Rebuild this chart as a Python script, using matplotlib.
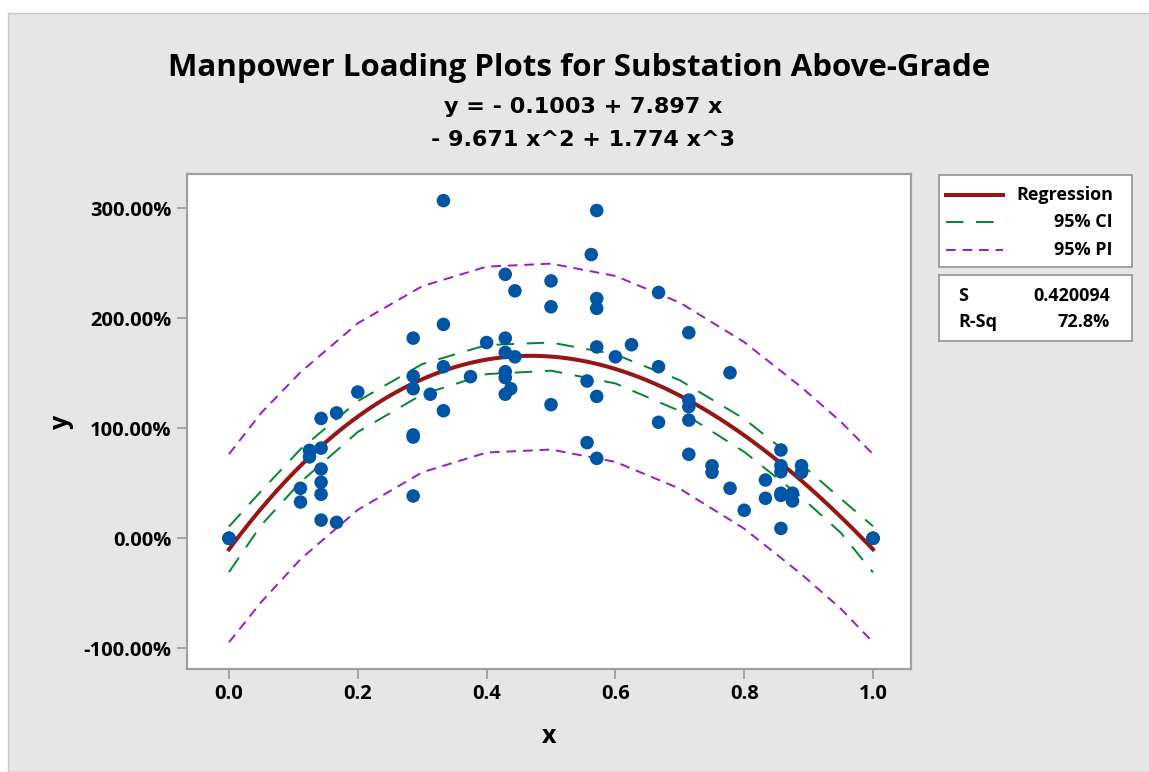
import numpy as np
import matplotlib
matplotlib.use('Agg')
import matplotlib.pyplot as plt
from matplotlib.patches import Rectangle
from matplotlib.ticker import FuncFormatter

plt.rcParams['font.family'] = ['Open Sans', 'DejaVu Sans']

# fitted model from the chart title: y = -0.1003 + 7.897x - 9.671x^2 + 1.774x^3
coefs = [1.774, -9.671, 7.897, -0.1003]

# observed points (y as fraction, shown as percent)
pts_x = [0, 0, 0,
         0.111, 0.111, 0.125, 0.125,
         0.143, 0.143, 0.143, 0.143, 0.143, 0.143,
         0.167, 0.167, 0.2,
         0.286, 0.286, 0.286, 0.286, 0.286, 0.286,
         0.3125, 0.333, 0.333, 0.333, 0.333, 0.375, 0.4,
         0.429, 0.429, 0.429, 0.429, 0.429, 0.429, 0.4375, 0.444, 0.444,
         0.5, 0.5, 0.5, 0.556, 0.556, 0.5625,
         0.571, 0.571, 0.571, 0.571, 0.571, 0.571,
         0.6, 0.625, 0.667, 0.667, 0.667,
         0.714, 0.714, 0.714, 0.714, 0.714,
         0.75, 0.75, 0.778, 0.778, 0.8, 0.833, 0.833,
         0.857, 0.857, 0.857, 0.857, 0.857, 0.857,
         0.875, 0.875, 0.889, 0.889,
         1.0, 1.0, 1.0]
pts_y = [0, 0, 0,
         0.455, 0.33, 0.80, 0.74,
         1.09, 0.82, 0.63, 0.51, 0.40, 0.166,
         1.14, 0.145, 1.33,
         1.82, 1.475, 1.36, 0.94, 0.92, 0.385,
         1.31, 3.07, 1.945, 1.56, 1.16, 1.47, 1.78,
         2.40, 1.82, 1.69, 1.515, 1.46, 1.31, 1.36, 2.25, 1.65,
         2.34, 2.105, 1.215, 1.43, 0.87, 2.58,
         2.98, 2.18, 2.09, 1.74, 1.29, 0.727,
         1.65, 1.76, 2.235, 1.56, 1.055,
         1.87, 1.257, 1.197, 1.075, 0.764,
         0.66, 0.60, 1.505, 0.455, 0.255, 0.53, 0.364,
         0.803, 0.66, 0.605, 0.41, 0.39, 0.09,
         0.41, 0.34, 0.66, 0.60,
         0, 0, 0]

# confidence / prediction bands
band_x = [0, 0.05, 0.111, 0.2, 0.3, 0.4, 0.5, 0.6, 0.7, 0.8, 0.889, 0.95, 1.0]
ci_upper = [0.107, 0.43, 0.810, 1.247, 1.584, 1.757, 1.780, 1.672, 1.437, 1.086, 0.673, 0.36, 0.110]
ci_lower = [-0.307, 0.12, 0.510, 0.967, 1.308, 1.493, 1.524, 1.408, 1.157, 0.786, 0.373, 0.05, -0.310]
pi_upper = [0.765, 1.14, 1.510, 1.955, 2.292, 2.470, 2.497, 2.385, 2.143, 1.784, 1.373, 1.06, 0.765]
pi_lower = [-0.945, -0.58, -0.190, 0.259, 0.600, 0.780, 0.807, 0.695, 0.451, 0.088, -0.327, -0.64, -0.945]

x_ticks = [0.0, 0.2, 0.4, 0.6, 0.8, 1.0]
y_ticks = [-1, 0, 1, 2, 3]

W, H = 1149, 772
fig = plt.figure(figsize=(W / 100, H / 100), dpi=100)
fig.patch.set_facecolor('white')
fig.add_artist(Rectangle((8 / W, 0), 1, 1 - 13 / H, transform=fig.transFigure,
                         facecolor='#E6E6E6', edgecolor='#C8C8C8', lw=1, zorder=0))

ax = fig.add_axes([187 / W, 1 - 669 / H, (911 - 187) / W, (669 - 174) / H])
ax.set_facecolor('white')

red = '#961616'
green = '#00862B'
purple = '#9A1AC8'
blue = '#0055A5'
ci_dash = (9, 6.5)
pi_dash = (5, 3.5)

xs = np.linspace(0, 1, 200)
ax.plot(xs, np.polyval(coefs, xs), color=red, lw=2.9, zorder=3)
ax.plot(band_x, ci_upper, color=green, lw=1.4, dashes=ci_dash, zorder=2)
ax.plot(band_x, ci_lower, color=green, lw=1.4, dashes=ci_dash, zorder=2)
ax.plot(band_x, pi_upper, color=purple, lw=1.4, dashes=pi_dash, zorder=2)
ax.plot(band_x, pi_lower, color=purple, lw=1.4, dashes=pi_dash, zorder=2)
ax.scatter(pts_x, pts_y, s=95, color=blue, edgecolors='none', zorder=4)

ax.set_xlim(-0.0652, 1.059)
ax.set_ylim(-1.188, 3.312)
ax.set_xticks(x_ticks)
ax.set_yticks(y_ticks)
ax.xaxis.set_major_formatter(FuncFormatter(lambda v, p: f'{v:.1f}'))
ax.yaxis.set_major_formatter(FuncFormatter(lambda v, p: f'{v * 100:.2f}%'))
ax.tick_params(axis='both', length=7, width=1.3, color='#A0A0A0', labelsize=14.5, pad=4)
for lab in ax.get_xticklabels() + ax.get_yticklabels():
    lab.set_fontweight('bold')
for sp in ax.spines.values():
    sp.set_color('#A0A0A0')
    sp.set_linewidth(1.6)

ax.set_xlabel('x', fontsize=18, fontweight='bold', labelpad=14)
ax.set_ylabel('y', fontsize=18, fontweight='bold', labelpad=7)

fig.text(579 / W, 1 - 76 / H, 'Manpower Loading Plots for Substation Above-Grade',
         ha='center', va='baseline', fontsize=22.5, fontweight='bold')
fig.text(583 / W, 1 - 113 / H, 'y = - 0.1003 + 7.897 x', family='DejaVu Sans',
         ha='center', va='baseline', fontsize=16, fontweight='bold')
fig.text(583 / W, 1 - 146 / H, '- 9.671 x^2 + 1.774 x^3', family='DejaVu Sans',
         ha='center', va='baseline', fontsize=16, fontweight='bold')

# legend box
lg = fig.add_axes([939 / W, 1 - 267 / H, 193 / W, 92 / H])
lg.set_xlim(0, 193)
lg.set_ylim(92, 0)
lg.set_xticks([])
lg.set_yticks([])
for sp in lg.spines.values():
    sp.set_color('#A0A0A0')
    sp.set_linewidth(1.4)
lg.plot([7, 64], [20, 20], color=red, lw=2.9)
lg.plot([7, 64], [47, 47], color=green, lw=1.4, dashes=ci_dash)
lg.plot([7, 64], [75, 75], color=purple, lw=1.4, dashes=pi_dash)
for yy, txt in [(20, 'Regression'), (47, '95% CI'), (75, '95% PI')]:
    lg.text(174, yy, txt, ha='right', va='center', fontsize=13, fontweight='bold')

# summary statistics box
st = fig.add_axes([939 / W, 1 - 341 / H, 193 / W, 66 / H])
st.set_xlim(0, 193)
st.set_ylim(66, 0)
st.set_xticks([])
st.set_yticks([])
for sp in st.spines.values():
    sp.set_color('#A0A0A0')
    sp.set_linewidth(1.4)
st.text(19, 21, 'S', ha='left', va='center', fontsize=13, fontweight='bold')
st.text(171, 21, '0.420094', ha='right', va='center', fontsize=13, fontweight='bold')
st.text(19, 47, 'R-Sq', ha='left', va='center', fontsize=13, fontweight='bold')
st.text(171, 47, '72.8%', ha='right', va='center', fontsize=13, fontweight='bold')

fig.savefig('out.png', dpi=100)
